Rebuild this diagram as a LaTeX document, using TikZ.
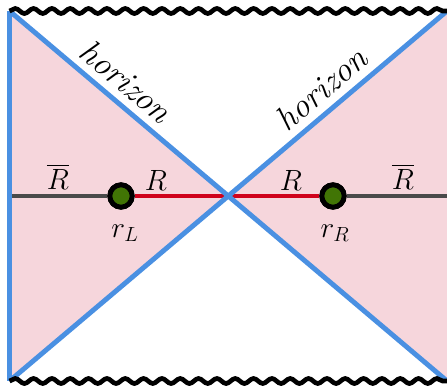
\RequirePackage{fix-cm}
\documentclass[tikz,border=0pt]{standalone}
\usepackage{amsmath,amssymb}
\usepackage{tikz}
\usetikzlibrary{positioning,calc,decorations.pathmorphing}
\definecolor{hblue}{RGB}{74,144,226}
\definecolor{wpink}{RGB}{246,214,220}
\definecolor{sred}{RGB}{208,2,27}
\definecolor{sgray}{RGB}{74,74,74}
\definecolor{dgreen}{RGB}{65,117,5}

\begin{document}
\begin{tikzpicture}[x=0.03cm,y=-0.03cm,
  bnd/.style={hblue,line width=4.2pt},
  sing/.style={black,line width=4pt,decorate,decoration={snake,segment length=0.55cm,amplitude=0.075cm}},
  seg/.style={line width=4pt},
  pt/.style={circle,draw=black,fill=dgreen,line width=4.2pt,minimum size=0.67cm,inner sep=0pt},
  lb/.style={font=\fontsize{25}{28}\selectfont},
  hz/.style={black,font=\itshape\fontsize{29}{32}\selectfont}]
\useasboundingbox (0,0) rectangle (447,390);
\coordinate (TL) at (9.5,11);
\coordinate (BL) at (9.5,381);
\coordinate (TR) at (447,11);
\coordinate (BR) at (447,381);
\coordinate (C) at ($(TL)!0.5!(BR)$);
\coordinate (W) at (9.5,196);
\coordinate (E) at (447,196);
% shaded wedges
\fill[wpink] (TL) -- (C) -- (BL) -- cycle;
\fill[wpink] (TR) -- (C) -- (BR) -- cycle;
% slice
\node[pt] (rL) at (121,196) {};
\node[pt] (rR) at (333,196) {};
\draw[seg,sgray] (W) -- (rL);
\draw[seg,sred] (rL) -- (rR);
\draw[seg,sgray] (rR) -- (E);
% horizons
\draw[bnd] (TL) -- node[pos=0.235,sloped,above=3pt,hz] {horizon} (BR);
\draw[bnd] (BL) -- node[pos=0.745,sloped,above=3pt,hz] {horizon} (TR);
\draw[bnd] (TL) -- (BL);
\node[pt] at (rL) {};
\node[pt] at (rR) {};
% singularities
\draw[sing] (TL) -- (TR);
\draw[sing] (BL) -- (BR);
% labels
\node[lb] (Rbl) at (58,177) {$\overline{R}$};
\node[lb] (Rl) at (156,180) {$R$};
\node[lb] (rLl) at (125,233) {$r_L$};
\node[lb] (Rr) at (291,180) {$R$};
\node[lb] (Rbr) at (403,177) {$\overline{R}$};
\node[lb] (rRl) at (335,233) {$r_R$};
\end{tikzpicture}
\end{document}
